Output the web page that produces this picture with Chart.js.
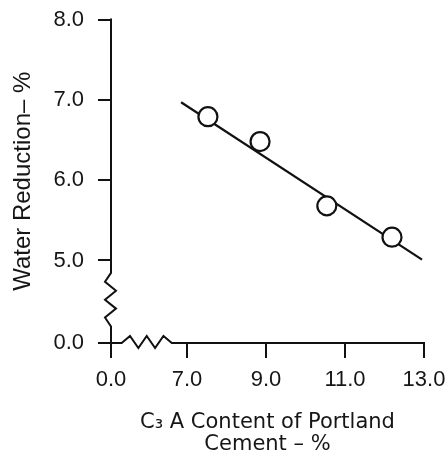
<!DOCTYPE html>
<html>
<head>
<meta charset="utf-8">
<script src="https://cdn.jsdelivr.net/npm/chart.js@4/dist/chart.umd.min.js"></script>
<style>
  html, body { margin: 0; padding: 0; background: #fff; }
</style>
</head>
<body>
<canvas id="chart" width="448" height="461"></canvas>
<script>
// C3A content of the portland cement (%) and the water reduction it gives (%)
const c3aContent     = [7.53, 8.85, 10.54, 12.19];
const waterReduction = [6.79, 6.48, 5.68, 5.29];

// end points of the fitted trend line
const trendC3a   = [6.85, 12.95];
const trendWater = [6.97, 5.01];

// axis ticks (both axes start at zero, with a break up to the first real tick)
const xTickValues = [0, 7, 9, 11, 13];
const xTickLabels = ['0.0', '7.0', '9.0', '11.0', '13.0'];
const yTickValues = [0, 5, 6, 7, 8];
const yTickLabels = ['0.0', '5.0', '6.0', '7.0', '8.0'];

const ink = '#111111';
const textInk = '#161616';

// Broken axes: values from 0 up to `end` are squeezed into a short stretch
// that starts at `origin`; everything above `end` is plotted linearly.
const xBreak = { end: 6.5, origin: 5.076 };
const yBreak = { end: 4.8, origin: 3.973 };
function place(v, brk) {
  return v >= brk.end ? v : brk.origin + (v / brk.end) * (brk.end - brk.origin);
}
const xPlace = v => place(v, xBreak);
const yPlace = v => place(v, yBreak);

// draws both axis lines, with a zigzag across each break
const brokenAxes = {
  id: 'brokenAxes',
  beforeDatasetsDraw(chart) {
    const { ctx, scales: { x, y } } = chart;
    const ox = x.getPixelForValue(xPlace(0));
    const oy = y.getPixelForValue(yPlace(0));
    const xFirst = x.getPixelForValue(xTickValues[1]);
    const yFirst = y.getPixelForValue(yTickValues[1]);
    const xEnd = x.getPixelForValue(xTickValues[xTickValues.length - 1]);
    const yEnd = y.getPixelForValue(yTickValues[yTickValues.length - 1]);
    ctx.save();
    ctx.strokeStyle = ink;
    ctx.lineWidth = 2;
    ctx.lineJoin = 'miter';
    ctx.lineCap = 'butt';

    // vertical axis
    const ya = yFirst + (oy - yFirst) * 0.15;
    const yb = yFirst + (oy - yFirst) * 0.80;
    ctx.beginPath();
    ctx.moveTo(ox, yEnd - 1);
    ctx.lineTo(ox, ya);
    for (let i = 1; i <= 5; i++) {
      ctx.lineTo(ox + (i % 2 ? -6 : 5), ya + (yb - ya) * i / 6);
    }
    ctx.lineTo(ox, yb);
    ctx.lineTo(ox, oy);
    ctx.stroke();

    // horizontal axis
    const xa = ox + (xFirst - ox) * 0.14;
    const xb = ox + (xFirst - ox) * 0.80;
    ctx.beginPath();
    ctx.moveTo(ox - 1, oy);
    ctx.lineTo(xa, oy);
    for (let i = 1; i <= 5; i++) {
      ctx.lineTo(xa + (xb - xa) * i / 6, oy + (i % 2 ? -7 : 5));
    }
    ctx.lineTo(xb, oy);
    ctx.lineTo(xEnd + 1, oy);
    ctx.stroke();
    ctx.restore();
  }
};

new Chart(document.getElementById('chart'), {
  type: 'scatter',
  data: {
    datasets: [
      {
        label: 'Measured',
        data: c3aContent.map((c, i) => ({ x: xPlace(c), y: yPlace(waterReduction[i]) })),
        pointRadius: 9.5,
        pointBorderWidth: 2.2,
        pointBackgroundColor: '#ffffff',
        pointBorderColor: ink,
        order: 0
      },
      {
        label: 'Trend',
        data: trendC3a.map((c, i) => ({ x: xPlace(c), y: yPlace(trendWater[i]) })),
        showLine: true,
        borderColor: ink,
        borderWidth: 2.2,
        pointRadius: 0,
        order: 1
      }
    ]
  },
  options: {
    responsive: false,
    animation: false,
    devicePixelRatio: 1,
    layout: { padding: { top: 19.5, right: 24, bottom: 0, left: 0 } },
    plugins: { legend: { display: false }, tooltip: { enabled: false } },
    scales: {
      x: {
        type: 'linear',
        min: xPlace(0),
        max: xTickValues[xTickValues.length - 1],
        afterBuildTicks: s => { s.ticks = xTickValues.map(v => ({ value: xPlace(v) })); },
        afterFit: s => { s.height = 118; s.paddingLeft = 0; s.paddingRight = 0; },
        border: { display: false },
        grid: { display: true, drawOnChartArea: false, drawTicks: true, tickLength: 15, color: ink, lineWidth: 2 },
        ticks: {
          autoSkip: false, maxRotation: 0, padding: 9, color: textInk,
          font: { family: '"Liberation Sans", Arial, sans-serif', size: 22 },
          callback: (v, i) => xTickLabels[i]
        },
        title: {
          display: true,
          text: ['C\u2083 A Content of Portland', 'Cement \u2013 %'],
          color: textInk,
          font: { family: '"DejaVu Sans", sans-serif', size: 21, lineHeight: 1.05 },
          padding: { top: 0, bottom: 5 }
        }
      },
      y: {
        type: 'linear',
        min: yPlace(0),
        max: yTickValues[yTickValues.length - 1],
        afterBuildTicks: s => { s.ticks = yTickValues.map(v => ({ value: yPlace(v) })); },
        afterFit: s => { s.width = 111; s.paddingTop = 0; s.paddingBottom = 0; },
        border: { display: false },
        grid: { display: true, drawOnChartArea: false, drawTicks: true, tickLength: 13, color: ink, lineWidth: 2 },
        ticks: {
          autoSkip: false, padding: 14, color: textInk,
          font: { family: '"Liberation Sans", Arial, sans-serif', size: 22 },
          callback: (v, i) => yTickLabels[i]
        },
        title: {
          display: true,
          text: 'Water Reduction\u2013 %',
          color: textInk,
          font: { family: '"Liberation Sans", Arial, sans-serif', size: 24, lineHeight: 1.2 },
          padding: { top: 9, bottom: 0 }
        }
      }
    }
  },
  plugins: [brokenAxes]
});
</script>
</body>
</html>
